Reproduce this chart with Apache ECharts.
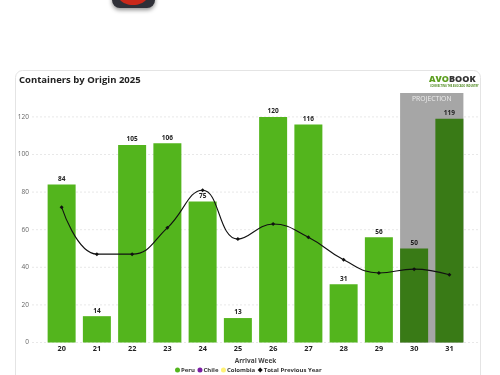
<!DOCTYPE html>
<html>
<head>
<meta charset="utf-8">
<style>html,body{margin:0;padding:0;background:#fff}#c{width:500px;height:375px}</style>
<script src="https://cdn.jsdelivr.net/npm/echarts@6/dist/echarts.min.js"></script>
</head>
<body>
<div id="c"></div>
<script>
const weeks = ['20','21','22','23','24','25','26','27','28','29','30','31'];
const peru = [84,14,105,106,75,13,120,116,31,56,50,119];
const previousYear = [72,47,47,61,81,55,63,56,44,37,39,36];
const projectedWeeks = ['30','31'];
const yTicks = [0,20,40,60,80,100,120];
const yTop = 132.7;
const FONT = '"Open Sans","Noto Sans",sans-serif';
const GREEN = '#53b51d', DARK = '#397a16';

const chart = echarts.init(document.getElementById('c'), null, {renderer:'canvas'});
chart.setOption({
  animation:false,
  backgroundColor:'#fff',
  textStyle:{fontFamily:FONT},
  graphic:[
    {type:'rect',z:-10,shape:{x:15.5,y:70.5,width:465,height:320,r:7},style:{fill:'#fff',stroke:'#e4e4e4',lineWidth:1}},
    {type:'rect',z:-10,shape:{x:112,y:-30,width:43,height:38,r:8},style:{fill:'#2f3038',shadowBlur:4,shadowColor:'rgba(0,0,0,.45)',shadowOffsetY:2}},
    {type:'ellipse',z:-9,shape:{cx:133,cy:-5,rx:15,ry:10},style:{fill:'#c9281a'}},
    {type:'text',x:19,y:75,style:{text:'Containers by Origin 2025',font:'bold 9.5px '+FONT,fill:'#222'}},
    {type:'text',x:429,y:74.5,style:{text:'AVO',font:'800 9px '+FONT,fill:'#5c9e1f'}},
    {type:'text',x:449,y:74.5,style:{text:'BOOK',font:'800 9px '+FONT,fill:'#333'}},
    {type:'text',x:430,y:85,style:{text:'CONNECTING THE AVOCADO INDUSTRY',font:'bold 2.5px '+FONT,fill:'#4f8a20'}}
  ],
  legend:{
    bottom:-3,left:170,itemWidth:5,itemHeight:5,itemGap:2.5,
    textStyle:{fontSize:6,fontWeight:'bold',color:'#333',padding:[0,0,0,-4]},
    data:[
      {name:'Peru',icon:'circle'},
      {name:'Chile',icon:'circle'},
      {name:'Colombia',icon:'circle'},
      {name:'Total Previous Year',icon:'diamond'}
    ]
  },
  grid:{left:44,right:33,top:93,bottom:32.5,containLabel:false},
  xAxis:{
    type:'category',data:weeks,name:'Arrival Week',nameLocation:'middle',nameGap:10,
    nameTextStyle:{fontSize:6.5,fontWeight:'bold',color:'#444'},
    axisLine:{show:false},axisTick:{show:false},
    axisLabel:{fontSize:7.3,fontWeight:'bold',color:'#222',margin:3}
  },
  yAxis:{
    type:'value',min:0,max:yTop,interval:20,
    axisLine:{show:false},axisTick:{show:false},
    axisLabel:{fontSize:6.5,color:'#666',margin:15,showMaxLabel:false},
    splitLine:{show:false}
  },
  series:[
    {
      name:'Gridlines',type:'custom',zlevel:0,silent:true,
      data:yTicks.map(v=>[v]),
      encode:{y:0},
      renderItem:function(params,api){
        const y=api.coord([0,api.value(0)])[1];
        const cs=params.coordSys;
        return {type:'line',shape:{x1:cs.x-12,y1:y,x2:cs.x+cs.width+11,y2:y},
                style:{stroke:'#e8e8e8',lineWidth:1,lineDash:[2,2]}};
      }
    },
    {
      name:'Projection',type:'custom',zlevel:1,z:1,silent:true,
      data:[[projectedWeeks[0],projectedWeeks[1]]],
      encode:{x:[0,1]},
      renderItem:function(params,api){
        const a=api.coord([api.value(0),0]);
        const b=api.coord([api.value(1),yTop]);
        const half=api.size([1,0])[0]*0.5-3.6;
        const x=a[0]-half, w=b[0]+half-x;
        return {type:'group',children:[
          {type:'rect',shape:{x:x,y:b[1],width:w,height:a[1]-b[1]},style:{fill:'#a6a6a6'}},
          {type:'text',style:{x:x+w/2,y:b[1]+6,text:'PROJECTION',fill:'#eeeeee',font:'6.8px '+FONT,textAlign:'center',textVerticalAlign:'middle'}}
        ]};
      }
    },
    {
      name:'Peru',type:'bar',stack:'o',barWidth:28,zlevel:1,z:2,
      itemStyle:{color:GREEN},
      data:peru.map((v,i)=>projectedWeeks.includes(weeks[i])?{value:v,itemStyle:{color:DARK}}:v),
      label:{show:true,position:'top',distance:2,fontSize:6.5,fontWeight:'bold',color:'#222'}
    },
    {name:'Chile',type:'bar',stack:'o',barWidth:28,zlevel:1,z:2,itemStyle:{color:'#7b1fa2'},data:[]},
    {name:'Colombia',type:'bar',stack:'o',barWidth:28,zlevel:1,z:2,itemStyle:{color:'#fff176'},data:[]},
    {
      name:'Total Previous Year',type:'line',smooth:0.45,zlevel:1,z:5,data:previousYear,
      symbol:'diamond',symbolSize:4,
      lineStyle:{color:'#111',width:1.1},itemStyle:{color:'#111'}
    }
  ]
});
</script>
</body>
</html>
